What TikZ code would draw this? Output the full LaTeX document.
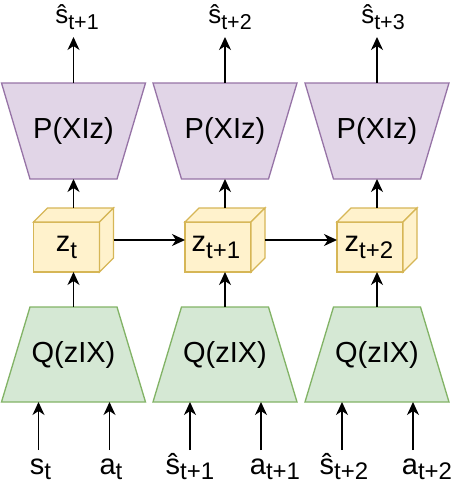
\documentclass[tikz,border=0pt]{standalone}
\usepackage{fontspec}
\setmainfont{Liberation Sans}
\usetikzlibrary{arrows.meta}
\definecolor{pfill}{HTML}{E1D5E7}\definecolor{pdraw}{HTML}{9673A6}
\definecolor{qfill}{HTML}{D5E8D4}\definecolor{qdraw}{HTML}{82B366}
\definecolor{zfill}{HTML}{FFF2CC}\definecolor{zdraw}{HTML}{D6B656}
\newcommand{\boxfont}{\fontsize{29}{29}\selectfont}
\newcommand{\toplblfont}{\fontsize{26}{26}\selectfont}
\newcommand{\botlblfont}{\fontsize{29}{29}\selectfont}
\newcommand{\bsub}[1]{\raisebox{-7pt}{\fontsize{24}{24}\selectfont #1}}
\newcommand{\tsub}[1]{\raisebox{-6pt}{\fontsize{21.5}{21.5}\selectfont #1}}
\newcommand{\usub}[1]{\raisebox{-5pt}{\fontsize{24}{24}\selectfont #1}}
\begin{document}
\begin{tikzpicture}[x=1pt,y=-1pt,line join=miter,
  pshape/.style={fill=pfill,draw=pdraw,line width=1.3pt},
  qshape/.style={fill=qfill,draw=qdraw,line width=1.3pt},
  zshape/.style={fill=zfill,draw=zdraw,line width=1.3pt},
  conn/.style={draw=black,line width=1.4pt,-{Stealth[length=13pt,width=12pt,inset=4pt]}},
  boxtext/.style={font=\boxfont,inner sep=0pt},
  toplbl/.style={font=\toplblfont,inner sep=0pt,anchor=base},
  botlbl/.style={font=\botlblfont,inner sep=0pt,anchor=base}]
\useasboundingbox (0,0) rectangle (454,480);
\foreach \i/\cx in {1/73.5,2/225,3/377}{
  % decoder P
  \path[pshape] ({\cx-72},83) -- ({\cx+72},83) -- ({\cx+43.5},179) -- ({\cx-43.5},179) -- cycle;
  \node[boxtext] (P\i) at (\cx,131) {P(XIz)};
  \coordinate (P\i-t) at (\cx,83);
  \coordinate (P\i-b) at (\cx,179);
  \coordinate (T\i) at (\cx,37);
  % encoder Q
  \path[qshape] ({\cx-43.5},307) -- ({\cx+43.5},307) -- ({\cx+72},402) -- ({\cx-72},402) -- cycle;
  \node[boxtext] (Q\i) at (\cx,355) {Q(zIX)};
  \coordinate (Q\i-t) at (\cx,307);
  % cube
  \path[zshape] ({\cx-40},222) rectangle ({\cx+26},272);
  \path[zshape] ({\cx-40},222) -- ({\cx-26},208) -- ({\cx+40},208) -- ({\cx+26},222) -- cycle;
  \path[zshape] ({\cx+26},222) -- ({\cx+40},208) -- ({\cx+40},258) -- ({\cx+26},272) -- cycle;
  \coordinate (Z\i-t) at (\cx,208);
  \coordinate (Z\i-b) at (\cx,272);
  \coordinate (Z\i-l) at ({\cx-40},240);
  \coordinate (Z\i-r) at ({\cx+40},240);
  % inputs
  \coordinate (I\i a) at ({\cx-35},402);
  \coordinate (I\i b) at ({\cx+36},402);
  \coordinate (J\i a) at ({\cx-35},450);
  \coordinate (J\i b) at ({\cx+36},450);
  % vertical connectors
  \draw[conn] (P\i-t) -- (T\i);
  \draw[conn] (Z\i-t) -- (P\i-b);
  \draw[conn] (Q\i-t) -- (Z\i-b);
  \draw[conn] (J\i a) -- (I\i a);
  \draw[conn] (J\i b) -- (I\i b);
}
\node[boxtext] (Z1) at (66.5,247) {z\bsub{t}};
\node[boxtext] (Z2) at (216,247) {z\bsub{t+1}};
\node[boxtext] (Z3) at (369,247) {z\bsub{t+2}};
\draw[conn] (Z1-r) -- (Z2-l);
\draw[conn] (Z2-r) -- (Z3-l);
% top labels
\node[toplbl] (S1) at (77,23) {ŝ\tsub{t+1}};
\node[toplbl] (S2) at (230,23) {ŝ\tsub{t+2}};
\node[toplbl] (S3) at (383,23) {ŝ\tsub{t+3}};
% bottom labels
\node[botlbl] (B1) at (40.5,474) {s\usub{t}};
\node[botlbl] (B2) at (111,474) {a\usub{t}};
\node[botlbl] (B3) at (190,474) {ŝ\usub{t+1}};
\node[botlbl] (B4) at (275,474) {a\usub{t+1}};
\node[botlbl] (B5) at (344,474) {ŝ\usub{t+2}};
\node[botlbl] (B6) at (427,474) {a\usub{t+2}};
\end{tikzpicture}
\end{document}
